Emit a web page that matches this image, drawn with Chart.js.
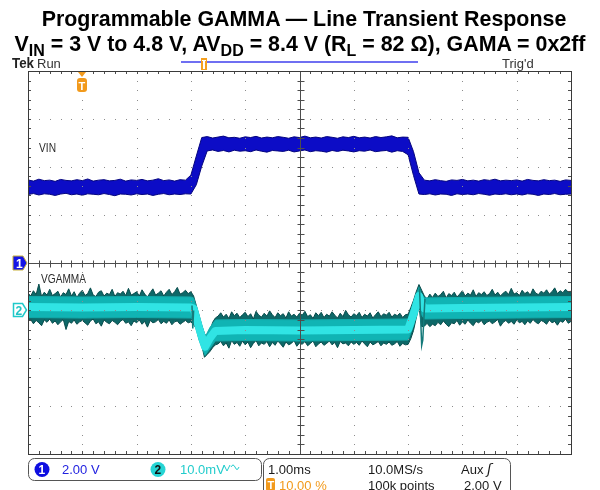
<!DOCTYPE html>
<html lang="en">
<head>
<meta charset="UTF-8">
<title>Programmable GAMMA — Line Transient Response</title>
<script src="https://cdn.jsdelivr.net/npm/chart.js"></script>
<style>
  body { margin: 0; background: #fff; }
  #wrap { position: relative; width: 600px; height: 490px; overflow: hidden; }
  #scope { position: absolute; left: 0; top: 0; }
  .title { position: absolute; left: 0; width: 600px; text-align: center; white-space: nowrap;
           font: bold 21.4px "Liberation Sans", Arial, sans-serif; line-height: 24px; color: #000; }
  .title sub { font-size: 16px; line-height: 0; vertical-align: -5px; }
</style>
</head>
<body>
<div id="wrap">
  <canvas id="scope" width="600" height="490"></canvas>
  <div class="title" style="top:7px; left:4px">Programmable GAMMA — Line Transient Response</div>
  <div class="title" style="top:32px">V<sub>IN</sub> = 3 V to 4.8 V, AV<sub>DD</sub> = 8.4 V (R<sub>L</sub> = 82 Ω), GAMA = 0x2ff</div>
</div>

<script>
// CH1 sample times in ms, trigger at 0 (10 % of record), 1 ms/div
const vinMs = [
  -1.0, -0.9, -0.8, -0.7, -0.6, -0.5, -0.4, -0.3, -0.2, -0.1,
   0.0,  0.1,  0.2,  0.3,  0.4,  0.5,  0.6,  0.7,  0.8,  0.9,
   1.0,  1.1,  1.2,  1.3,  1.4,  1.5,  1.6,  1.7,  1.8,  1.9,
   2.0,  2.1,  2.2,  2.3,  2.4,  2.5,  2.6,  2.7,  2.8,  2.9,
   3.0,  3.1,  3.2,  3.3,  3.4,  3.5,  3.6,  3.7,  3.8,  3.9,
   4.0,  4.1,  4.2,  4.3,  4.4,  4.5,  4.6,  4.7,  4.8,  4.9,
   5.0,  5.1,  5.2,  5.3,  5.4,  5.5,  5.6,  5.7,  5.8,  5.9,
   6.0,  6.1,  6.2,  6.3,  6.4,  6.5,  6.6,  6.7,  6.8,  6.9,
   7.0,  7.1,  7.2,  7.3,  7.4,  7.5,  7.6,  7.7,  7.8,  7.9,
   8.0,  8.1,  8.2,  8.3,  8.4,  8.5,  8.6,  8.7,  8.8,  8.9, 9.0
];

// CH1 VIN envelope (V, 2 V/div)
const vinTop = [
  3.45, 3.40, 3.48, 3.42, 3.44, 3.39, 3.47, 3.43, 3.41, 3.46,
  3.42, 3.49, 3.40, 3.44, 3.46, 3.41, 3.43, 3.48, 3.40, 3.45,
  3.43, 3.47, 3.41, 3.44, 3.50, 3.42, 3.45, 3.40, 3.46, 3.44,
  3.65, 4.45, 5.22, 5.26, 5.20, 5.24, 5.28, 5.21, 5.23, 5.19,
  5.25, 5.22, 5.27, 5.20, 5.24, 5.21, 5.26, 5.23, 5.19, 5.25,
  5.22, 5.28, 5.21, 5.24, 5.20, 5.26, 5.23, 5.19, 5.25, 5.22,
  5.27, 5.21, 5.24, 5.20, 5.26, 5.22, 5.25, 5.29, 5.21, 5.24,
  5.23, 4.63, 3.75, 3.44, 3.41, 3.46, 3.42, 3.39, 3.45, 3.43,
  3.47, 3.41, 3.44, 3.40, 3.46, 3.43, 3.48, 3.41, 3.44, 3.42,
  3.45, 3.40, 3.47, 3.43, 3.41, 3.46, 3.42, 3.44, 3.39, 3.45, 3.43
];
const vinBottom = [
  2.84, 2.88, 2.82, 2.87, 2.85, 2.80, 2.86, 2.89, 2.83, 2.86,
  2.81, 2.87, 2.85, 2.83, 2.88, 2.84, 2.79, 2.86, 2.85, 2.82,
  2.87, 2.84, 2.86, 2.80, 2.85, 2.88, 2.83, 2.86, 2.84, 2.87,
  2.86, 3.25, 4.03, 4.66, 4.70, 4.64, 4.68, 4.62, 4.69, 4.65,
  4.67, 4.63, 4.70, 4.65, 4.61, 4.68, 4.66, 4.64, 4.69, 4.62,
  4.66, 4.70, 4.63, 4.67, 4.65, 4.61, 4.68, 4.64, 4.69, 4.66,
  4.62, 4.67, 4.65, 4.70, 4.63, 4.66, 4.68, 4.61, 4.67, 4.64,
  4.50, 3.63, 2.86, 2.84, 2.87, 2.82, 2.86, 2.85, 2.80, 2.87,
  2.84, 2.86, 2.83, 2.88, 2.85, 2.81, 2.86, 2.84, 2.87, 2.83,
  2.86, 2.82, 2.87, 2.85, 2.80, 2.86, 2.84, 2.88, 2.83, 2.85, 2.86
];

// CH2 sample times in ms (finer, the trace is noisier)
const gammaMs = [
  -1.00, -0.95, -0.90, -0.85, -0.80, -0.75, -0.70, -0.65, -0.60, -0.55,
  -0.50, -0.45, -0.40, -0.35, -0.30, -0.25, -0.20, -0.15, -0.10, -0.05,
   0.00,  0.05,  0.10,  0.15,  0.20,  0.25,  0.30,  0.35,  0.40,  0.45,
   0.50,  0.55,  0.60,  0.65,  0.70,  0.75,  0.80,  0.85,  0.90,  0.95,
   1.00,  1.05,  1.10,  1.15,  1.20,  1.25,  1.30,  1.35,  1.40,  1.45,
   1.50,  1.55,  1.60,  1.65,  1.70,  1.75,  1.80,  1.85,  1.90,  1.95,
   2.00,  2.05,  2.10,  2.15,  2.20,  2.25,  2.30,  2.35,  2.40,  2.45,
   2.50,  2.55,  2.60,  2.65,  2.70,  2.75,  2.80,  2.85,  2.90,  2.95,
   3.00,  3.05,  3.10,  3.15,  3.20,  3.25,  3.30,  3.35,  3.40,  3.45,
   3.50,  3.55,  3.60,  3.65,  3.70,  3.75,  3.80,  3.85,  3.90,  3.95,
   4.00,  4.05,  4.10,  4.15,  4.20,  4.25,  4.30,  4.35,  4.40,  4.45,
   4.50,  4.55,  4.60,  4.65,  4.70,  4.75,  4.80,  4.85,  4.90,  4.95,
   5.00,  5.05,  5.10,  5.15,  5.20,  5.25,  5.30,  5.35,  5.40,  5.45,
   5.50,  5.55,  5.60,  5.65,  5.70,  5.75,  5.80,  5.85,  5.90,  5.95,
   6.00,  6.05,  6.10,  6.15,  6.20,  6.25,  6.30,  6.35,  6.40,  6.45,
   6.50,  6.55,  6.60,  6.65,  6.70,  6.75,  6.80,  6.85,  6.90,  6.95,
   7.00,  7.05,  7.10,  7.15,  7.20,  7.25,  7.30,  7.35,  7.40,  7.45,
   7.50,  7.55,  7.60,  7.65,  7.70,  7.75,  7.80,  7.85,  7.90,  7.95,
   8.00,  8.05,  8.10,  8.15,  8.20,  8.25,  8.30,  8.35,  8.40,  8.45,
   8.50,  8.55,  8.60,  8.65,  8.70,  8.75,  8.80,  8.85,  8.90,  8.95, 9.00
];

// CH2 VGAMMA outer envelope (mV, 10 mV/div)
const gammaTop = [
   3.6,  3.0,  4.1,  3.3,  5.5,  2.9,  3.8,  3.2,  4.4,  3.1,
   3.5,  4.0,  2.8,  3.7,  3.3,  4.5,  3.0,  3.9,  2.7,  3.6,
   4.2,  3.1,  3.5,  4.7,  3.2,  2.9,  3.8,  4.1,  3.0,  3.6,
   3.3,  4.4,  2.9,  3.7,  3.4,  4.0,  3.1,  4.6,  3.2,  3.5,
   3.9,  3.0,  4.3,  3.4,  2.8,  3.7,  4.5,  3.2,  3.6,  4.1,
   3.0,  3.8,  4.4,  3.3,  3.9,  4.8,  3.4,  3.7,  4.2,  3.5,
   3.9,  3.0,  1.0, -1.0, -3.1, -4.8, -5.8, -4.5, -2.5, -1.6,
  -1.2, -0.5, -1.4, -0.8, -1.7, -0.3, -1.1, -0.6, -1.5, -0.9,
  -0.4, -1.3, -0.7, -1.8, -0.2, -1.0, -1.4, -0.6, -1.2, -0.1,
  -0.9, -1.5, -0.5, -1.1, -0.7, -1.6, -0.3, -1.2, -0.8, -1.4,
  -0.6, -1.0, -0.2, -1.3, -0.9, -1.7, -0.5, -1.1, -0.4, -1.5,
  -0.8, -1.2, -0.3, -1.0, -1.6, -0.6, -1.3,  0.0, -0.9, -1.4,
  -0.7, -1.1, -0.4, -1.5, -0.8, -1.2, -0.5, -1.6, -0.9, -0.3,
  -1.3, -0.7, -1.0, -0.4, -1.4, -0.8, -1.1, -0.6, -1.5, -0.9,
  -0.8,  0.6,  2.1,  3.9,  5.4,  4.2,  3.0,  2.4,  3.4,  2.7,
   3.6,  2.9,  3.3,  4.0,  2.6,  3.5,  3.1,  3.8,  2.8,  3.4,
   4.1,  3.0,  3.6,  3.2,  4.3,  2.9,  3.7,  3.3,  3.9,  3.1,
   3.5,  4.4,  3.2,  3.8,  3.0,  3.6,  4.0,  3.3,  4.6,  3.4,
   3.7,  3.1,  4.2,  3.5,  3.9,  3.2,  4.5,  3.6,  3.3,  4.0,
   3.6,  4.3,  3.4,  3.9,  4.7,  3.5,  4.1,  3.7,  4.4,  3.8, 4.0
];
const gammaBottom = [
  -2.3, -1.9, -2.8, -2.1, -2.6, -3.2, -2.0, -2.5, -1.8, -2.7,
  -2.2, -3.0, -2.4, -1.9, -4.0, -2.3, -2.7, -2.0, -2.9, -2.4,
  -2.1, -2.6, -3.1, -2.2, -1.8, -2.8, -2.4, -3.3, -2.0, -2.5,
  -2.8, -2.1, -2.5, -3.0, -2.3, -1.9, -2.7, -2.4, -3.2, -2.2,
  -2.6, -2.0, -2.9, -2.3, -3.5, -2.1, -2.6, -2.4, -1.9, -2.8,
  -2.3, -2.7, -2.0, -3.0, -2.4, -2.2, -2.9, -2.5, -2.1, -2.6,
  -2.4, -3.0, -3.8, -5.5, -7.3, -9.8, -9.2, -8.6, -7.8, -7.2,
  -7.0, -6.5, -7.4, -6.8, -7.9, -6.3, -7.1, -6.7, -7.5, -6.4,
  -7.2, -6.6, -7.8, -6.9, -6.3, -7.4, -6.8, -7.1, -6.5, -7.6,
  -6.7, -7.3, -6.4, -7.0, -7.7, -6.6, -7.2, -6.9, -6.3, -7.5,
  -6.8, -7.1, -6.5, -7.4, -6.9, -6.4, -7.6, -7.0, -6.6, -7.3,
  -6.9, -6.4, -7.2, -6.7, -7.8, -6.5, -7.0, -6.8, -7.4, -6.6,
  -7.1, -6.7, -7.3, -6.4, -7.0, -7.6, -6.6, -7.2, -6.9, -6.5,
  -7.4, -6.8, -7.1, -6.6, -7.3, -7.0, -6.5, -7.5, -6.9, -7.2,
  -7.1, -5.9, -4.2, -1.6,  0.8, -3.4, -3.3, -2.7, -3.4, -2.9,
  -3.2, -2.5, -3.0, -2.2, -2.9, -3.4, -2.6, -2.8, -2.1, -3.1,
  -2.4, -2.9, -2.0, -2.7, -3.2, -2.3, -2.6, -2.1, -3.0, -2.5,
  -2.2, -2.8, -2.4, -1.9, -3.3, -2.5, -2.1, -2.7, -2.3, -2.9,
  -2.0, -2.6, -2.3, -3.0, -2.2, -2.7, -1.9, -2.5, -2.8, -2.1,
  -2.4, -2.9, -2.0, -2.6, -2.3, -3.1, -2.2, -2.5, -1.8, -2.7, -2.3
];

// CH2 bright core of the trace
const coreMs       = [-1.0, 0.0, 1.0, 2.0, 2.05, 2.15, 2.26, 2.35, 2.45, 3.0, 4.0, 5.0, 6.0, 6.1, 6.2, 6.24, 6.3, 7.0, 8.0, 9.0];
const gammaMid     = [ 0.7, 0.6, 0.7, 0.6, 0.4, -3.6, -7.6, -5.8, -4.3, -4.1, -4.2, -4.1, -4.0, -0.8, 3.0, 1.5, 0.4, 0.5, 0.6, 0.7];
const gammaInnerHi = [ 2.9, 2.8, 2.9, 2.8, 2.6, -1.2, -5.6, -3.6, -2.0, -1.9, -2.0, -1.9, -1.8, 1.6, 4.8, 3.6, 2.6, 2.7, 2.8, 2.9];
const gammaInnerLo = [-1.5, -1.6, -1.5, -1.6, -1.9, -6.2, -9.4, -8.0, -6.4, -6.3, -6.4, -6.3, -6.2, -3.2, 1.4, -0.8, -1.8, -1.7, -1.6, -1.5];

// narrow glitches at the two edges
const glitchMs    = [2.02, 2.035, 2.05, 2.1, 6.21, 6.25, 6.27, 6.31];
const glitchValue = [1.0, -3.8, 0.0, null, 4.6, -7.3, -6.2, 2.4];

const pts = (xs, ys) => ys.map((v, i) => ({ x: xs[i], y: v }));

// graticule: border, centre cross with ticks, dotted divisions (drawn over traces)
const graticule = {
  id: 'graticule',
  afterDatasetsDraw(chart) {
    const { ctx, chartArea: a, scales: { x, y } } = chart;
    const px = t => Math.round(x.getPixelForValue(t)) + 0.5;
    const py = v => Math.round(y.getPixelForValue(v)) + 0.5;
    ctx.save();
    ctx.fillStyle = '#8c8c8c';
    for (let d = 1; d < 10; d++) {
      if (d === 5) continue;
      const gx = Math.round(x.getPixelForValue(-1 + d));
      for (let k = 1; k < 40; k++) ctx.fillRect(gx, Math.round(y.getPixelForValue(8 - k * 0.4)), 1, 1);
    }
    for (let d = 1; d < 8; d++) {
      if (d === 4) continue;
      const gy = Math.round(y.getPixelForValue(8 - d * 2));
      for (let k = 1; k < 50; k++) ctx.fillRect(Math.round(x.getPixelForValue(-1 + k * 0.2)), gy, 1, 1);
    }
    const cx = px(4), cy = py(0);
    ctx.strokeStyle = '#4d4d4d';
    ctx.lineWidth = 1;
    ctx.beginPath();
    ctx.moveTo(cx, a.top); ctx.lineTo(cx, a.bottom);
    ctx.moveTo(a.left, cy); ctx.lineTo(a.right, cy);
    for (let k = 1; k < 50; k++) {
      const tx = px(-1 + k * 0.2);
      ctx.moveTo(tx, cy - 3); ctx.lineTo(tx, cy + 4);
      ctx.moveTo(tx, a.top); ctx.lineTo(tx, a.top + 3);
      ctx.moveTo(tx, a.bottom); ctx.lineTo(tx, a.bottom - 3);
    }
    for (let k = 1; k < 40; k++) {
      const ty = py(8 - k * 0.4);
      ctx.moveTo(cx - 3, ty); ctx.lineTo(cx + 4, ty);
      ctx.moveTo(a.left, ty); ctx.lineTo(a.left + 3, ty);
      ctx.moveTo(a.right, ty); ctx.lineTo(a.right - 3, ty);
    }
    ctx.stroke();
    ctx.strokeStyle = '#3a3a3a';
    ctx.strokeRect(Math.round(a.left) + 0.5, Math.round(a.top) + 0.5,
                   Math.round(a.right - a.left), Math.round(a.bottom - a.top));
    ctx.restore();
  }
};

// Tek screen furniture: header, markers, trace labels, readout boxes
const readout = {
  id: 'readout',
  afterDraw(chart) {
    const { ctx, chartArea: a, scales: { x, y, y2 } } = chart;
    const txt = (s, tx, ty, color, font, maxW) => {
      ctx.fillStyle = color;
      ctx.font = font || '13px "Liberation Sans", Arial, sans-serif';
      if (maxW) ctx.fillText(s, tx, ty, maxW); else ctx.fillText(s, tx, ty);
    };
    ctx.save();
    ctx.textBaseline = 'alphabetic';

    txt('Tek', 12, 68, '#222', 'bold 14px "Liberation Sans", Arial, sans-serif', 22);
    txt('Run', 37, 68, '#333', '13px "Liberation Sans", Arial, sans-serif', 24);
    txt("Trig'd", 502, 68, '#333', '13px "Liberation Sans", Arial, sans-serif', 34);

    // record position bar
    ctx.strokeStyle = '#6f6ff2';
    ctx.lineWidth = 2;
    ctx.beginPath(); ctx.moveTo(181, 62); ctx.lineTo(418, 62); ctx.stroke();
    ctx.fillStyle = '#f5a020';
    ctx.fillRect(201, 58, 6, 12);
    ctx.fillStyle = '#fff';
    ctx.fillRect(202, 60, 4, 1); ctx.fillRect(203, 60, 2, 9);

    // trigger position marker
    const tx = Math.round(x.getPixelForValue(0));
    ctx.fillStyle = '#f29a1c';
    ctx.beginPath(); ctx.moveTo(tx - 4, a.top + 1); ctx.lineTo(tx + 4, a.top + 1); ctx.lineTo(tx, a.top + 6); ctx.fill();
    ctx.beginPath(); ctx.roundRect(tx - 5, a.top + 7, 10, 14, 3); ctx.fill();
    txt('T', tx - 3.5, a.top + 19, '#fff', 'bold 11px "Liberation Sans", Arial, sans-serif');

    // channel ground markers
    const m1 = Math.round(y.getPixelForValue(0));
    ctx.beginPath();
    ctx.moveTo(13, m1 - 7); ctx.lineTo(23, m1 - 7); ctx.lineTo(27, m1); ctx.lineTo(23, m1 + 7); ctx.lineTo(13, m1 + 7); ctx.closePath();
    ctx.fillStyle = '#1414e6'; ctx.fill();
    ctx.strokeStyle = '#c9b23a'; ctx.lineWidth = 1; ctx.stroke();
    txt('1', 16, m1 + 5, '#fff', 'bold 12px "Liberation Sans", Arial, sans-serif');

    const m2 = Math.round(y2.getPixelForValue(0));
    ctx.beginPath();
    ctx.moveTo(13.5, m2 - 6.5); ctx.lineTo(22.5, m2 - 6.5); ctx.lineTo(26.5, m2); ctx.lineTo(22.5, m2 + 6.5); ctx.lineTo(13.5, m2 + 6.5); ctx.closePath();
    ctx.fillStyle = '#fff'; ctx.fill();
    ctx.strokeStyle = '#1fcaca'; ctx.lineWidth = 1.5; ctx.stroke();
    txt('2', 15.5, m2 + 5, '#1fc4c4', 'bold 12px "Liberation Sans", Arial, sans-serif');

    // trace labels
    txt('VIN', 39, 152, '#2b2b2b', '13px "Liberation Sans", Arial, sans-serif', 17);
    txt('VGAMMA', 41, 283, '#2b2b2b', '13px "Liberation Sans", Arial, sans-serif', 45);

    // vertical readout box
    ctx.strokeStyle = '#555';
    ctx.lineWidth = 1;
    ctx.beginPath(); ctx.roundRect(28.5, 458.5, 233, 22, 6); ctx.stroke();
    ctx.fillStyle = '#0e0ee0';
    ctx.beginPath(); ctx.arc(42, 469.5, 7.5, 0, Math.PI * 2); ctx.fill();
    txt('1', 38.5, 474, '#fff', 'bold 12px "Liberation Sans", Arial, sans-serif');
    txt('2.00 V', 62, 474, '#2222e0');
    ctx.fillStyle = '#26d4d4';
    ctx.beginPath(); ctx.arc(158, 469.5, 7.5, 0, Math.PI * 2); ctx.fill();
    txt('2', 154.5, 474, '#111', 'bold 12px "Liberation Sans", Arial, sans-serif');
    txt('10.0mV', 180, 474, '#22cccc');
    // bandwidth-limit glyph
    ctx.strokeStyle = '#22cccc';
    ctx.lineWidth = 1;
    ctx.beginPath();
    ctx.moveTo(224, 465); ctx.lineTo(227, 471); ctx.lineTo(230, 465);
    ctx.moveTo(231, 467); ctx.quadraticCurveTo(233, 463, 235, 467); ctx.quadraticCurveTo(237, 472, 239, 467);
    ctx.stroke();

    // horizontal / trigger readout box
    ctx.strokeStyle = '#555';
    ctx.beginPath(); ctx.roundRect(263.5, 458.5, 247, 40, 6); ctx.stroke();
    txt('1.00ms', 268, 474, '#1a1a1a');
    txt('10.0MS/s', 368, 474, '#1a1a1a');
    txt('Aux', 461, 474, '#1a1a1a');
    txt('ʃ', 487, 474, '#1a1a1a', 'italic 14px "DejaVu Sans", sans-serif');
    ctx.fillStyle = '#f29a1c';
    ctx.beginPath(); ctx.roundRect(266, 478, 9, 13, 2); ctx.fill();
    txt('T', 267.5, 489, '#fff', 'bold 11px "Liberation Sans", Arial, sans-serif');
    txt('10.00 %', 279, 490, '#f29a1c');
    txt('100k points', 368, 490, '#1a1a1a');
    txt('2.00 V', 464, 490, '#1a1a1a');
    ctx.restore();
  }
};

new Chart(document.getElementById('scope'), {
  type: 'line',
  data: {
    datasets: [
      { data: pts(vinMs, vinBottom), yAxisID: 'y', borderColor: '#04047e', borderWidth: 1, fill: false, order: 10 },
      { data: pts(vinMs, vinTop), yAxisID: 'y', borderColor: '#04047e', borderWidth: 1, fill: '-1', backgroundColor: '#0c0cc6', order: 10 },
      { data: pts(gammaMs, gammaBottom), yAxisID: 'y2', borderColor: '#084c4c', borderWidth: 1, fill: false, order: 8 },
      { data: pts(gammaMs, gammaTop), yAxisID: 'y2', borderColor: '#084c4c', borderWidth: 1, fill: '-1', backgroundColor: '#0d6868', order: 8 },
      { data: pts(coreMs, gammaInnerLo), yAxisID: 'y2', borderColor: '#12aaaa', borderWidth: 1, fill: false, order: 6 },
      { data: pts(coreMs, gammaInnerHi), yAxisID: 'y2', borderColor: '#12aaaa', borderWidth: 1, fill: '-1', backgroundColor: '#10b4b4', order: 6 },
      { data: pts(coreMs, gammaMid), yAxisID: 'y2', borderColor: '#30e4e4', borderWidth: 8, borderJoinStyle: 'round', borderCapStyle: 'butt', fill: false, order: 4 },
      { data: pts(glitchMs, glitchValue), yAxisID: 'y2', borderColor: '#157a7a', borderWidth: 1.5, fill: false, spanGaps: false, order: 3 }
    ]
  },
  options: {
    responsive: false,
    animation: false,
    devicePixelRatio: 1,
    layout: { padding: { left: 28, top: 71, right: 29, bottom: 36 } },
    elements: { point: { radius: 0 }, line: { tension: 0 } },
    plugins: { legend: { display: false }, tooltip: { enabled: false } },
    scales: {
      x: { type: 'linear', min: -1, max: 9, display: false },
      y: { min: -8, max: 8, display: false },
      y2: { min: -30, max: 50, display: false }
    }
  },
  plugins: [graticule, readout]
});
</script>
</body>
</html>
